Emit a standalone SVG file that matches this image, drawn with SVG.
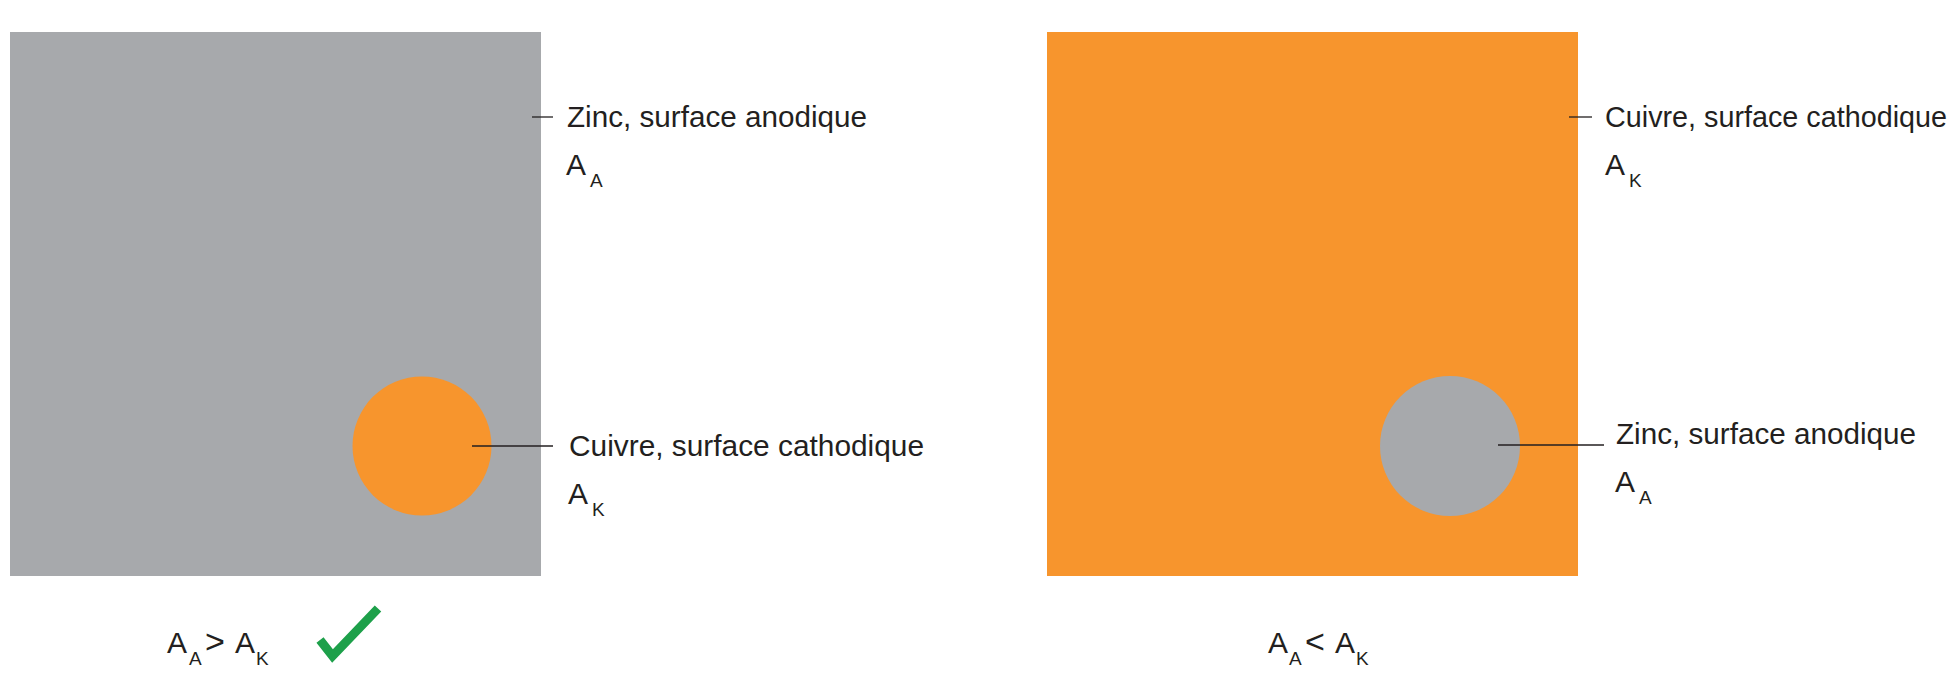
<svg xmlns="http://www.w3.org/2000/svg" width="1958" height="691" viewBox="0 0 1958 691">
  <style>
    .zinc { fill: #A7A9AC; }
    .cu { fill: #F7952D; }
    .t { font-family: "Liberation Sans", Arial, sans-serif; font-size: 30px; fill: #231F20; }
    .s { font-family: "Liberation Sans", Arial, sans-serif; font-size: 19px; fill: #231F20; }
    .op { font-family: "Liberation Sans", Arial, sans-serif; font-size: 34px; fill: #231F20; }
    .lead { stroke: #231F20; stroke-width: 1.3; fill: none; }
  </style>
  <rect width="1958" height="691" fill="#FFFFFF"/>

  <g id="left-zinc-plate">
    <rect class="zinc" x="10" y="32" width="531" height="544"/>
  </g>
  <g id="left-copper-disc">
    <circle class="cu" cx="422" cy="446" r="69.5"/>
  </g>
  <g id="right-copper-plate">
    <rect class="cu" x="1047" y="32" width="531" height="544"/>
  </g>
  <g id="right-zinc-disc">
    <circle class="zinc" cx="1450" cy="446" r="70"/>
  </g>

  <g id="connectors">
    <line class="lead" x1="532" y1="117" x2="553" y2="117"/>
    <line class="lead" x1="472" y1="446" x2="553" y2="446"/>
    <line class="lead" x1="1569" y1="117" x2="1592" y2="117"/>
    <line class="lead" x1="1498" y1="445" x2="1604" y2="445"/>
  </g>

  <g id="label-left-zinc">
    <text class="t" x="567" y="127" textLength="300" lengthAdjust="spacingAndGlyphs">Zinc, surface anodique</text>
    <text class="t" x="566" y="175">A<tspan class="s" dx="4" dy="12">A</tspan></text>
  </g>
  <g id="label-left-copper">
    <text class="t" x="569" y="456" textLength="355" lengthAdjust="spacingAndGlyphs">Cuivre, surface cathodique</text>
    <text class="t" x="568" y="504">A<tspan class="s" dx="4" dy="12">K</tspan></text>
  </g>
  <g id="label-right-copper">
    <text class="t" x="1605" y="127" textLength="342" lengthAdjust="spacingAndGlyphs">Cuivre, surface cathodique</text>
    <text class="t" x="1605" y="175">A<tspan class="s" dx="4" dy="12">K</tspan></text>
  </g>
  <g id="label-right-zinc">
    <text class="t" x="1616" y="444" textLength="300" lengthAdjust="spacingAndGlyphs">Zinc, surface anodique</text>
    <text class="t" x="1615" y="492">A<tspan class="s" dx="4" dy="12">A</tspan></text>
  </g>

  <g id="caption-left">
    <text class="t" x="167" y="653">A</text>
    <text class="s" x="189" y="665">A</text>
    <text class="op" x="205" y="653">&gt;</text>
    <text class="t" x="235" y="653">A</text>
    <text class="s" x="256" y="665">K</text>
    <polyline points="320,640 332.5,656 378,608.5" fill="none" stroke="#1DA04A" stroke-width="9" stroke-linejoin="miter" stroke-linecap="butt"/>
  </g>
  <g id="caption-right">
    <text class="t" x="1268" y="653">A</text>
    <text class="s" x="1289" y="665">A</text>
    <text class="op" x="1305" y="653">&lt;</text>
    <text class="t" x="1335" y="653">A</text>
    <text class="s" x="1356" y="665">K</text>
  </g>
</svg>
